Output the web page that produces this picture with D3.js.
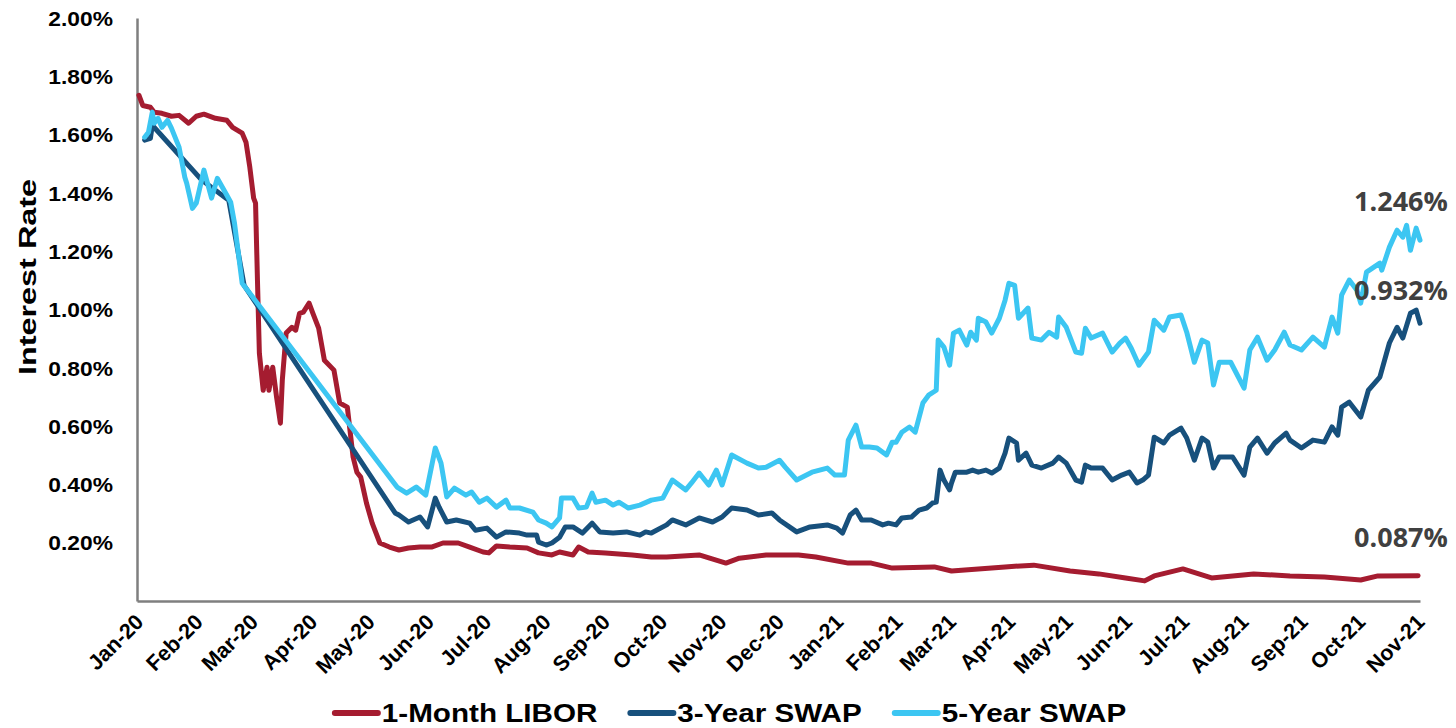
<!DOCTYPE html>
<html>
<head>
<meta charset="utf-8">
<script src="https://cdnjs.cloudflare.com/ajax/libs/d3/7.8.5/d3.min.js"></script>
<style>
body{margin:0;background:#fff;}
text{font-family:"Liberation Sans", Arial, sans-serif;font-weight:bold;}
</style>
</head>
<body>
<svg id="chart" width="1456" height="728"></svg>
<script>
var seriesNames = ["1-Month LIBOR", "3-Year SWAP", "5-Year SWAP"];
var seriesColors = ["#a51c30", "#17507c", "#3cc6f2"];
var monthLabels = ["Jan-20","Feb-20","Mar-20","Apr-20","May-20","Jun-20","Jul-20","Aug-20","Sep-20","Oct-20","Nov-20","Dec-20",
    "Jan-21","Feb-21","Mar-21","Apr-21","May-21","Jun-21","Jul-21","Aug-21","Sep-21","Oct-21","Nov-21"];
var yTicks = [0.2, 0.4, 0.6, 0.8, 1.0, 1.2, 1.4, 1.6, 1.8, 2.0];
var endLabels = ["1.246%", "0.932%", "0.087%"];

// values in percent
var libor = [
    ["2020-01-02",1.735],["2020-01-04",1.70],["2020-01-08",1.694],["2020-01-10",1.677],["2020-01-14",1.673],
    ["2020-01-19",1.663],["2020-01-23",1.666],["2020-01-28",1.639],["2020-02-01",1.663],["2020-02-05",1.670],
    ["2020-02-11",1.656],["2020-02-17",1.649],["2020-02-20",1.625],["2020-02-25",1.605],["2020-02-27",1.574],
    ["2020-02-29",1.488],["2020-03-02",1.382],["2020-03-03",1.365],["2020-03-04",1.10],["2020-03-05",0.850],
    ["2020-03-07",0.723],["2020-03-09",0.802],["2020-03-10",0.723],["2020-03-12",0.802],["2020-03-14",0.699],
    ["2020-03-16",0.610],["2020-03-17",0.758],["2020-03-19",0.919],["2020-03-22",0.939],["2020-03-24",0.929],
    ["2020-03-26",0.987],["2020-03-28",0.991],["2020-03-31",1.022],["2020-04-02",0.987],["2020-04-05",0.936],
    ["2020-04-08",0.826],["2020-04-13",0.792],["2020-04-16",0.679],["2020-04-20",0.665],["2020-04-23",0.494],
    ["2020-04-25",0.442],["2020-04-27",0.425],["2020-04-30",0.336],["2020-05-03",0.267],["2020-05-07",0.199],
    ["2020-05-12",0.185],["2020-05-17",0.175],["2020-05-22",0.182],["2020-05-28",0.185],["2020-06-03",0.185],
    ["2020-06-09",0.199],["2020-06-12",0.199],["2020-06-17",0.199],["2020-06-23",0.185],["2020-06-30",0.168],
    ["2020-07-03",0.165],["2020-07-07",0.189],["2020-07-14",0.185],["2020-07-23",0.182],["2020-07-29",0.165],
    ["2020-08-05",0.158],["2020-08-09",0.168],["2020-08-16",0.158],["2020-08-19",0.185],["2020-08-24",0.168],
    ["2020-09-02",0.165],["2020-09-16",0.158],["2020-09-26",0.151],["2020-10-04",0.151],["2020-10-21",0.158],
    ["2020-11-04",0.130],["2020-11-11",0.147],["2020-11-25",0.158],["2020-12-12",0.158],["2020-12-21",0.151],
    ["2021-01-07",0.130],["2021-01-19",0.130],["2021-01-30",0.113],["2021-02-21",0.117],["2021-03-02",0.103],
    ["2021-03-30",0.117],["2021-04-14",0.123],["2021-05-03",0.103],["2021-05-18",0.093],["2021-06-01",0.079],
    ["2021-06-11",0.069],["2021-06-16",0.086],["2021-07-01",0.110],["2021-07-16",0.079],["2021-08-07",0.093],
    ["2021-08-26",0.086],["2021-09-13",0.082],["2021-10-02",0.072],["2021-10-11",0.086],["2021-11-01",0.087]
];

var swap3 = [
    ["2020-01-05",1.581],["2020-01-08",1.587],["2020-01-09",1.632],["2020-02-04",1.443],["2020-02-18",1.375],
    ["2020-02-26",1.083],["2020-05-15",0.302],["2020-05-17",0.295],["2020-05-22",0.271],["2020-05-28",0.288],
    ["2020-06-01",0.254],["2020-06-05",0.353],["2020-06-07",0.322],["2020-06-11",0.271],["2020-06-16",0.278],
    ["2020-06-23",0.267],["2020-06-26",0.243],["2020-07-02",0.250],["2020-07-07",0.219],["2020-07-12",0.237],
    ["2020-07-19",0.233],["2020-07-23",0.226],["2020-07-28",0.226],["2020-07-29",0.202],["2020-08-02",0.192],
    ["2020-08-05",0.199],["2020-08-09",0.219],["2020-08-12",0.254],["2020-08-16",0.254],["2020-08-21",0.233],
    ["2020-08-26",0.267],["2020-08-30",0.237],["2020-09-06",0.233],["2020-09-13",0.237],["2020-09-20",0.226],
    ["2020-09-23",0.237],["2020-09-26",0.233],["2020-10-04",0.261],["2020-10-07",0.278],["2020-10-14",0.261],
    ["2020-10-21",0.285],["2020-10-28",0.271],["2020-11-02",0.288],["2020-11-07",0.319],["2020-11-15",0.312],
    ["2020-11-21",0.295],["2020-11-28",0.302],["2020-12-02",0.278],["2020-12-11",0.237],["2020-12-18",0.254],
    ["2020-12-27",0.261],["2021-01-01",0.250],["2021-01-04",0.233],["2021-01-08",0.295],["2021-01-11",0.312],
    ["2021-01-14",0.278],["2021-01-19",0.278],["2021-01-25",0.261],["2021-01-28",0.267],["2021-02-01",0.261],
    ["2021-02-04",0.285],["2021-02-09",0.288],["2021-02-13",0.312],["2021-02-17",0.319],["2021-02-20",0.336],
    ["2021-02-22",0.339],["2021-02-24",0.449],["2021-02-26",0.415],["2021-03-01",0.381],["2021-03-02",0.405],
    ["2021-03-04",0.442],["2021-03-10",0.442],["2021-03-13",0.449],["2021-03-16",0.442],["2021-03-20",0.449],
    ["2021-03-23",0.439],["2021-03-27",0.456],["2021-03-30",0.507],["2021-04-01",0.559],["2021-04-05",0.542],
    ["2021-04-06",0.483],["2021-04-10",0.507],["2021-04-13",0.466],["2021-04-18",0.456],["2021-04-24",0.473],
    ["2021-04-27",0.494],["2021-05-01",0.473],["2021-05-06",0.415],["2021-05-09",0.408],["2021-05-11",0.466],
    ["2021-05-14",0.456],["2021-05-20",0.456],["2021-05-25",0.415],["2021-05-30",0.432],["2021-06-03",0.442],
    ["2021-06-07",0.405],["2021-06-10",0.415],["2021-06-13",0.432],["2021-06-16",0.562],["2021-06-21",0.542],
    ["2021-06-24",0.569],["2021-06-30",0.593],["2021-07-03",0.559],["2021-07-07",0.483],["2021-07-11",0.559],
    ["2021-07-14",0.545],["2021-07-17",0.456],["2021-07-20",0.494],["2021-07-27",0.494],["2021-08-02",0.432],
    ["2021-08-05",0.528],["2021-08-09",0.559],["2021-08-14",0.507],["2021-08-18",0.542],["2021-08-24",0.576],
    ["2021-08-26",0.552],["2021-09-01",0.525],["2021-09-07",0.552],["2021-09-13",0.545],["2021-09-17",0.597],
    ["2021-09-20",0.569],["2021-09-22",0.665],["2021-09-26",0.682],["2021-10-02",0.631],["2021-10-06",0.723],
    ["2021-10-12",0.768],["2021-10-17",0.885],["2021-10-21",0.939],["2021-10-24",0.902],["2021-10-28",0.987],
    ["2021-10-31",0.998],["2021-11-02",0.953]
];

var swap5 = [
    ["2020-01-05",1.591],["2020-01-07",1.608],["2020-01-09",1.677],["2020-01-10",1.639],["2020-01-12",1.656],
    ["2020-01-14",1.625],["2020-01-17",1.649],["2020-01-19",1.622],["2020-01-23",1.557],["2020-01-26",1.454],
    ["2020-01-27",1.433],["2020-01-30",1.347],["2020-02-01",1.365],["2020-02-05",1.478],["2020-02-09",1.382],
    ["2020-02-12",1.450],["2020-02-17",1.392],["2020-02-19",1.368],["2020-02-21",1.296],["2020-02-25",1.090],
    ["2020-05-16",0.391],["2020-05-21",0.370],["2020-05-26",0.391],["2020-05-31",0.363],["2020-06-05",0.525],
    ["2020-06-08",0.473],["2020-06-11",0.357],["2020-06-15",0.387],["2020-06-21",0.363],["2020-06-24",0.374],
    ["2020-06-28",0.339],["2020-07-02",0.353],["2020-07-07",0.322],["2020-07-12",0.346],["2020-07-14",0.319],
    ["2020-07-19",0.319],["2020-07-26",0.305],["2020-07-29",0.278],["2020-08-02",0.267],["2020-08-05",0.254],
    ["2020-08-09",0.285],["2020-08-10",0.353],["2020-08-16",0.353],["2020-08-19",0.319],["2020-08-23",0.322],
    ["2020-08-26",0.370],["2020-08-28",0.339],["2020-09-02",0.346],["2020-09-06",0.329],["2020-09-09",0.339],
    ["2020-09-14",0.319],["2020-09-20",0.329],["2020-09-26",0.346],["2020-10-02",0.353],["2020-10-07",0.415],
    ["2020-10-14",0.381],["2020-10-17",0.405],["2020-10-21",0.439],["2020-10-26",0.398],["2020-10-30",0.449],
    ["2020-11-02",0.398],["2020-11-07",0.501],["2020-11-15",0.473],["2020-11-21",0.456],["2020-11-25",0.459],
    ["2020-12-02",0.483],["2020-12-05",0.459],["2020-12-11",0.415],["2020-12-19",0.442],["2020-12-27",0.456],
    ["2020-12-31",0.432],["2021-01-05",0.432],["2021-01-07",0.552],["2021-01-11",0.603],["2021-01-14",0.528],
    ["2021-01-18",0.528],["2021-01-22",0.525],["2021-01-27",0.501],["2021-01-30",0.545],["2021-02-01",0.545],
    ["2021-02-04",0.579],["2021-02-08",0.597],["2021-02-11",0.579],["2021-02-15",0.679],["2021-02-18",0.706],
    ["2021-02-22",0.723],["2021-02-23",0.895],["2021-02-26",0.871],["2021-03-01",0.809],["2021-03-03",0.919],
    ["2021-03-06",0.929],["2021-03-10",0.878],["2021-03-12",0.922],["2021-03-15",0.895],["2021-03-16",0.970],
    ["2021-03-20",0.957],["2021-03-23",0.919],["2021-03-27",0.970],["2021-03-30",1.032],["2021-04-01",1.090],
    ["2021-04-04",1.083],["2021-04-06",0.970],["2021-04-11",1.005],["2021-04-13",0.902],["2021-04-18",0.895],
    ["2021-04-22",0.922],["2021-04-26",0.905],["2021-04-27",0.974],["2021-05-01",0.939],["2021-05-06",0.854],
    ["2021-05-09",0.850],["2021-05-11",0.936],["2021-05-14",0.902],["2021-05-20",0.919],["2021-05-25",0.854],
    ["2021-05-29",0.885],["2021-06-01",0.902],["2021-06-04",0.867],["2021-06-08",0.809],["2021-06-13",0.854],
    ["2021-06-16",0.963],["2021-06-21",0.929],["2021-06-24",0.974],["2021-06-30",0.981],["2021-07-03",0.922],
    ["2021-07-07",0.819],["2021-07-11",0.895],["2021-07-14",0.885],["2021-07-17",0.741],["2021-07-20",0.819],
    ["2021-07-26",0.819],["2021-08-02",0.730],["2021-08-05",0.861],["2021-08-09",0.905],["2021-08-14",0.826],
    ["2021-08-18",0.861],["2021-08-23",0.922],["2021-08-26",0.878],["2021-09-01",0.861],["2021-09-07",0.905],
    ["2021-09-13",0.871],["2021-09-17",0.974],["2021-09-20",0.919],["2021-09-22",1.049],["2021-09-26",1.101],
    ["2021-09-30",1.066],["2021-10-02",1.022],["2021-10-05",1.128],["2021-10-12",1.159],["2021-10-13",1.135],
    ["2021-10-17",1.214],["2021-10-21",1.272],["2021-10-24",1.248],["2021-10-26",1.289],["2021-10-28",1.203],
    ["2021-10-31",1.279],["2021-11-02",1.238]
];

var parseDay = d3.timeParse("%Y-%m-%d");
var parseMonth = d3.timeParse("%b-%y");
var allSeries = [libor, swap3, swap5].map(function(s){
    return s.map(function(p){ return {date: parseDay(p[0]), v: p[1]}; });
});

var svg = d3.select("#chart");

var x = d3.scaleTime()
    .domain([new Date(2020, 0, 1), new Date(2021, 10, 2)])
    .range([137, 1420]);
var y = d3.scaleLinear()
    .domain([0, 2])
    .range([601, 18]);

//y axis
var yAxis = svg.append("g")
    .attr("transform", "translate(137,0)")
    .call(d3.axisLeft(y).tickValues(yTicks).tickSize(0).tickSizeOuter(0)
        .tickFormat(function(d){ return d3.format(".2f")(d) + "%"; }));
yAxis.select(".domain").attr("stroke", "#7f7f7f").attr("stroke-width", 2.5);
yAxis.selectAll("text")
    .attr("x", 0)
    .attr("dy", "0.36em")
    .attr("transform", "translate(-24,0) scale(1.14,1)")
    .attr("fill", "#000")
    .style("font-size", "20px");

//x axis
var tickDates = monthLabels.map(function(m){ return parseMonth(m); });
var xAxis = svg.append("g")
    .attr("transform", "translate(0,601)")
    .call(d3.axisBottom(x).tickValues(tickDates).tickSize(0).tickSizeOuter(0)
        .tickFormat(function(d, i){ return monthLabels[i]; }));
xAxis.select(".domain").attr("stroke", "#7f7f7f").attr("stroke-width", 2.5);
xAxis.selectAll("text")
    .attr("x", 0)
    .attr("y", 0)
    .attr("dy", "0.35em")
    .attr("transform", "translate(2,17) rotate(-45)")
    .style("text-anchor", "end")
    .attr("fill", "#000")
    .style("font-size", "21.5px");

svg.append("text")
    .attr("transform", "translate(36,277) rotate(-90) scale(1.35,1)")
    .attr("text-anchor", "middle")
    .style("font-size", "24px")
    .text("Interest Rate");

//lines
var line = d3.line()
    .x(function(d){ return x(d.date); })
    .y(function(d){ return y(d.v); });

svg.selectAll(".series")
    .data(allSeries)
    .enter()
    .append("path")
    .attr("class", "series")
    .attr("d", line)
    .attr("fill", "none")
    .attr("stroke", function(d, i){ return seriesColors[i]; })
    .attr("stroke-width", 5)
    .attr("stroke-linejoin", "round")
    .attr("stroke-linecap", "round");

//end value labels
var labelYs = [211, 300, 547];
svg.selectAll(".endLabel")
    .data(endLabels)
    .enter()
    .append("text")
    .attr("class", "endLabel")
    .attr("x", 1401)
    .attr("y", function(d, i){ return labelYs[i]; })
    .attr("text-anchor", "middle")
    .attr("fill", "#404040")
    .style("font-family", "'Open Sans', sans-serif")
    .style("font-size", "27px")
    .text(function(d){ return d; });

//legend
var legend = svg.append("g").attr("class", "legend");
var lx = 0;
seriesNames.forEach(function(name, i){
    var g = legend.append("g").attr("transform", "translate(" + lx + ",0)");
    g.append("line")
        .attr("x1", 3).attr("x2", 46)
        .attr("y1", 0).attr("y2", 0)
        .attr("stroke", seriesColors[i])
        .attr("stroke-width", 6)
        .attr("stroke-linecap", "round");
    var t = g.append("text")
        .attr("x", 0)
        .attr("dy", "0.36em")
        .attr("transform", "translate(50,0) scale(1.14,1)")
        .style("font-size", "26px")
        .text(name);
    lx += 50 + t.node().getComputedTextLength() * 1.14 + 30;
});
var lw = lx - 30;
legend.attr("transform", "translate(" + (729 - lw / 2) + ",713)");
</script>
</body>
</html>
